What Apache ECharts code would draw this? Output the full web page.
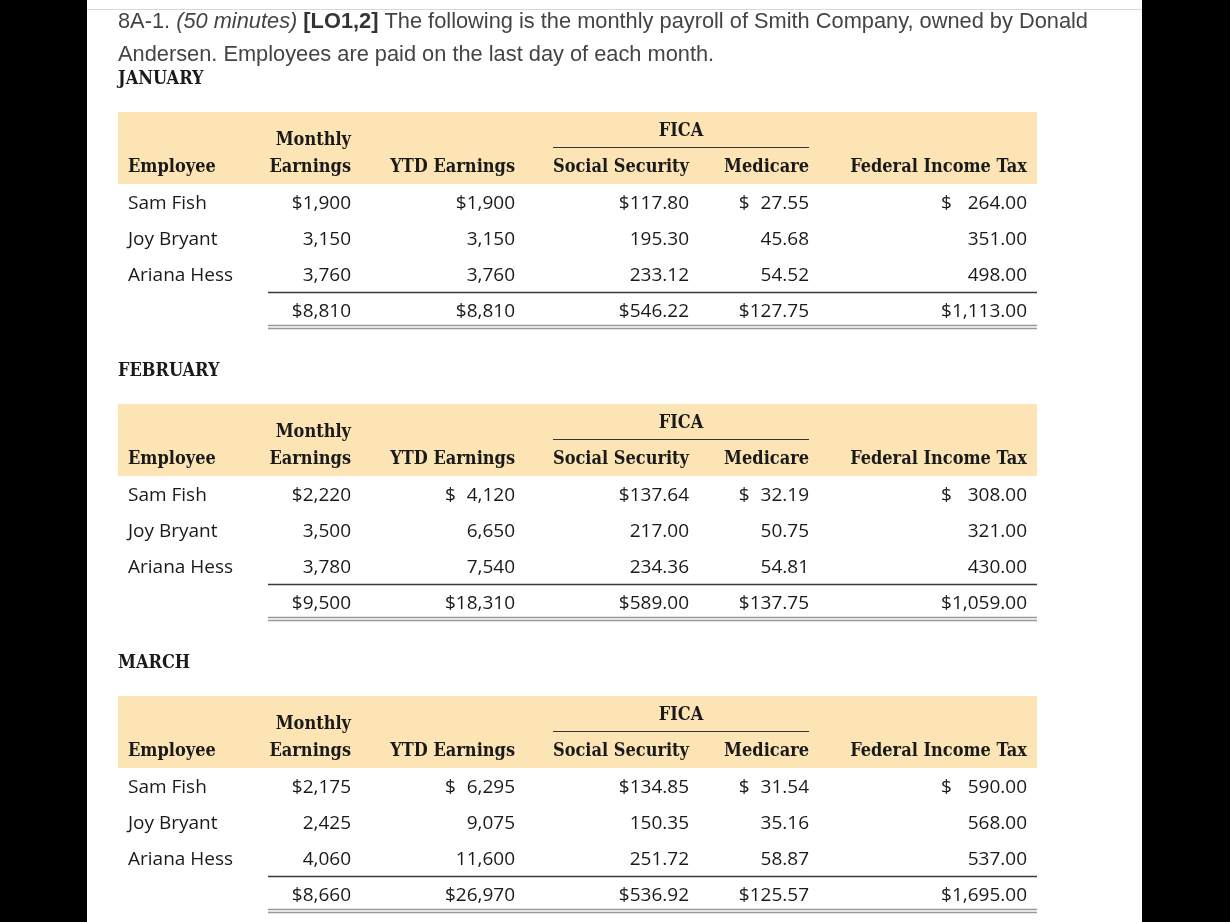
<!DOCTYPE html>
<html><head><meta charset="utf-8">
<script src="https://cdn.jsdelivr.net/npm/echarts@6/dist/echarts.min.js"></script>
<style>html,body{margin:0;padding:0;background:#000}#c{width:1230px;height:922px}</style>
</head><body><div id="c"></div>
<script>
// ---- data ----
const titleLine1 = ['8A-1. ', '(50 minutes)', ' ', '[LO1,2]', ' The following is the monthly payroll of Smith Company, owned by Donald'];
const titleLine2 = 'Andersen. Employees are paid on the last day of each month.';
const months = ['JANUARY', 'FEBRUARY', 'MARCH'];
const employees = ['Sam Fish', 'Joy Bryant', 'Ariana Hess'];
const headerTop = ['Monthly', '', '', '', ''];
const headerBottom = ['Employee', 'Earnings', 'YTD Earnings', 'Social Security', 'Medicare', 'Federal Income Tax'];
const groupLabel = 'FICA';
const monthlyEarnings = [[1900, 3150, 3760], [2220, 3500, 3780], [2175, 2425, 4060]];
const ytdEarnings = [[1900, 3150, 3760], [4120, 6650, 7540], [6295, 9075, 11600]];
const socialSecurity = [[117.80, 195.30, 233.12], [137.64, 217.00, 234.36], [134.85, 150.35, 251.72]];
const medicare = [[27.55, 45.68, 54.52], [32.19, 50.75, 54.81], [31.54, 35.16, 58.87]];
const federalIncomeTax = [[264.00, 351.00, 498.00], [308.00, 321.00, 430.00], [590.00, 568.00, 537.00]];
const decimals = [0, 0, 2, 2, 2];

// ---- layout ----
const colRight = [351, 515, 689, 809, 1027];
const nameX = 128;
const tableLeft = 118, tableRight = 1037, ruleLeft = 268;
const tableTop0 = 112, tableStep = 292;
const headFont = 'bold 18px "DejaVu Serif Condensed", "DejaVu Serif", serif';
const monthFont = 'bold 18px "DejaVu Serif Condensed", "DejaVu Serif", serif';
const bodyFont = '19px "Open Sans", "Noto Sans", sans-serif';
const titleFont = '21.8px "Liberation Sans", Arial, sans-serif';
const ink = '#1a1a1a';

const ctx = document.createElement('canvas').getContext('2d');
function textWidth(t, f) { ctx.font = f; return ctx.measureText(t).width; }
function fmt(v, d) {
  return v.toLocaleString('en-US', { minimumFractionDigits: d, maximumFractionDigits: d });
}
function txt(x, y, text, font, align, fill) {
  return { type: 'text', x: x, y: y, silent: true,
    style: { text: text, font: font, fill: fill || ink, align: align, textAlign: align,
             verticalAlign: 'middle', textVerticalAlign: 'middle' } };
}
function line(x1, y1, x2, y2, color, w) {
  return { type: 'line', silent: true, shape: { x1: x1, y1: y1, x2: x2, y2: y2 },
    style: { stroke: color, lineWidth: w } };
}

const g = [];
// page
g.push({ type: 'rect', shape: { x: 87, y: 0, width: 1055, height: 922 }, style: { fill: '#fff' }, silent: true });
g.push(line(87, 9.5, 1142, 9.5, '#d8d8d8', 1));
// title
g.push({ type: 'text', x: 118, y: 21.5, silent: true,
  style: {
    text: '{n|' + titleLine1[0] + '}{i|' + titleLine1[1] + '}{n|' + titleLine1[2] + '}{b|' + titleLine1[3] + '}{n|' + titleLine1[4] + '}',
    verticalAlign: 'middle', textVerticalAlign: 'middle',
    rich: {
      n: { font: titleFont, fill: '#444' },
      i: { font: 'italic ' + titleFont, fill: '#444' },
      b: { font: 'bold ' + titleFont, fill: '#333' }
    }
  } });
g.push(txt(118, 54.5, titleLine2, titleFont, 'left', '#444'));

const cols = [monthlyEarnings, ytdEarnings, socialSecurity, medicare, federalIncomeTax];
months.forEach(function (m, t) {
  const top = tableTop0 + t * tableStep;
  g.push(txt(118, top - 32.5, m, monthFont, 'left', ink));
  g.push({ type: 'rect', silent: true, shape: { x: tableLeft, y: top, width: tableRight - tableLeft, height: 72 }, style: { fill: '#fce4b5' } });
  // headers
  g.push(txt(nameX, top + 55, headerBottom[0], headFont, 'left'));
  headerTop.forEach(function (h, c) { if (h) g.push(txt(colRight[c], top + 28, h, headFont, 'right')); });
  headerBottom.slice(1).forEach(function (h, c) { g.push(txt(colRight[c], top + 55, h, headFont, 'right')); });
  g.push(txt((553 + 809) / 2, top + 19, groupLabel, headFont, 'center'));
  g.push(line(553, top + 35.5, 809, top + 35.5, '#333', 1.2));
  // rows
  employees.forEach(function (e, r) {
    const y = top + 91.5 + r * 36;
    g.push(txt(nameX, y, e, bodyFont, 'left'));
    cols.forEach(function (col, c) {
      const v = col[t][r];
      const s = fmt(v, decimals[c]);
      g.push(txt(colRight[c], y, s, bodyFont, 'right'));
      if (r === 0) {
        const total = col[t].reduce(function (a, b) { return a + b; }, 0);
        const tw = textWidth('$' + fmt(total, decimals[c]), bodyFont);
        const sw = textWidth(s, bodyFont);
        const dollarX = Math.min(colRight[c] - tw, colRight[c] - sw - textWidth('$', bodyFont));
        g.push(txt(dollarX, y, '$', bodyFont, 'left'));
      }
    });
  });
  // totals
  const ty = top + 199.5;
  cols.forEach(function (col, c) {
    const total = col[t].reduce(function (a, b) { return a + b; }, 0);
    g.push(txt(colRight[c], ty, '$' + fmt(total, decimals[c]), bodyFont, 'right'));
  });
  g.push(line(ruleLeft, top + 180.5, tableRight, top + 180.5, '#3a3a3a', 1.6));
  g.push(line(ruleLeft, top + 213.5, tableRight, top + 213.5, '#999', 1.6));
  g.push(line(ruleLeft, top + 216.5, tableRight, top + 216.5, '#999', 1.6));
});

const chart = echarts.init(document.getElementById('c'), null, { renderer: 'canvas' });
chart.setOption({ backgroundColor: '#000', animation: false, graphic: { elements: g } });
</script></body></html>
